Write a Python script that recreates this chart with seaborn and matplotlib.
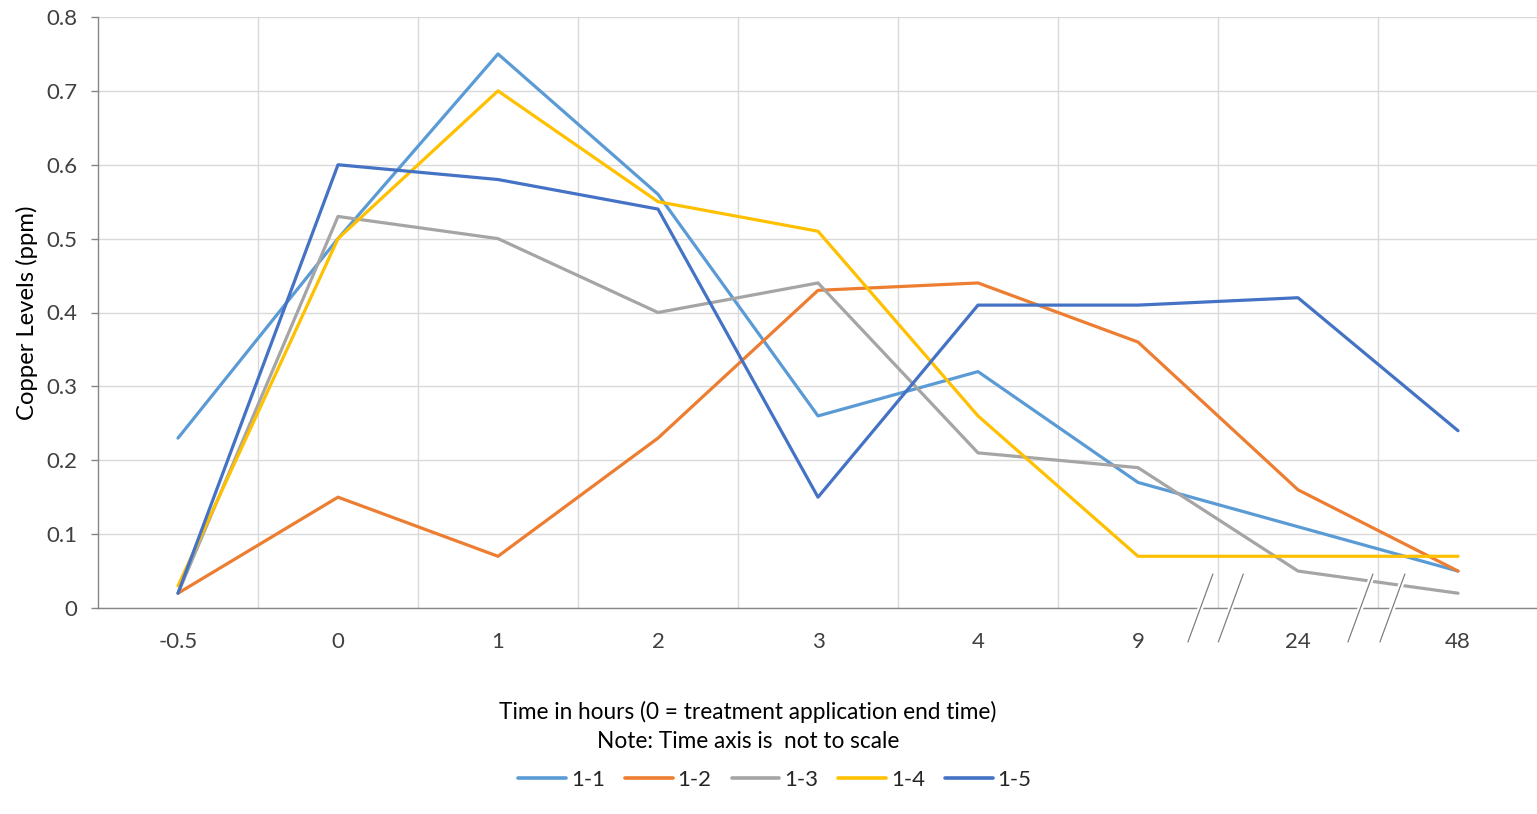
import matplotlib
matplotlib.use("Agg")
import matplotlib.pyplot as plt
import seaborn as sns
import pandas as pd
import numpy as np

# Sampling times (categorical, not to scale)
time_labels = ["-0.5", "0", "1", "2", "3", "4", "9", "24", "48"]

# Copper levels (ppm) per sample site
s_1_1 = [0.23, 0.50, 0.75, 0.56, 0.26, 0.32, 0.17, 0.11, 0.05]
s_1_2 = [0.02, 0.15, 0.07, 0.23, 0.43, 0.44, 0.36, 0.16, 0.05]
s_1_3 = [0.02, 0.53, 0.50, 0.40, 0.44, 0.21, 0.19, 0.05, 0.02]
s_1_4 = [0.03, 0.50, 0.70, 0.55, 0.51, 0.26, 0.07, 0.07, 0.07]
s_1_5 = [0.02, 0.60, 0.58, 0.54, 0.15, 0.41, 0.41, 0.42, 0.24]

series_names = ["1-1", "1-2", "1-3", "1-4", "1-5"]
series_values = [s_1_1, s_1_2, s_1_3, s_1_4, s_1_5]
colors = ["#5B9BD5", "#ED7D31", "#A5A5A5", "#FFC000", "#4472C4"]

rows = []
for name, vals in zip(series_names, series_values):
    for i, v in enumerate(vals):
        rows.append({"pos": i, "time": time_labels[i], "series": name, "value": v})
df = pd.DataFrame(rows)

sns.set_theme(style="white")
plt.rcParams["font.family"] = ["Lato", "DejaVu Sans"]

FS = 16
TXT = "#404040"

W, H = 1537, 814
fig = plt.figure(figsize=(W / 100, H / 100), dpi=100)
ax = fig.add_axes([98 / W, 1 - 608 / H, 1440 / W, (608 - 17) / H])

sns.lineplot(data=df, x="pos", y="value", hue="series", palette=colors,
             linewidth=2.3, ax=ax, legend=False, sort=False)

n = len(time_labels)
ax.set_xlim(-0.5, n - 0.5)
ax.set_ylim(0, 0.8)

# Category labels at centres, gridlines / ticks at category boundaries
ax.set_xticks(np.arange(n))
ax.set_xticklabels(time_labels)
ax.set_xticks(np.arange(0.5, n - 0.5, 1.0), minor=True)
ax.tick_params(axis="x", which="major", length=0, pad=17, labelsize=FS, colors=TXT)
ax.tick_params(axis="x", which="minor", length=6, width=1, color="#868686", direction="out")
ax.set_yticks(np.arange(0, 0.81, 0.1))
ax.set_yticklabels(["0"] + [f"{v:.1f}" for v in np.arange(0.1, 0.81, 0.1)])
ax.tick_params(axis="y", length=5, width=1, color="#868686", direction="out",
               labelsize=FS, colors=TXT, pad=10, left=True)

ax.grid(True, axis="y", which="major", color="#D9D9D9", linewidth=1)
ax.grid(True, axis="x", which="minor", color="#D9D9D9", linewidth=1)
ax.grid(False, axis="x", which="major")
ax.set_axisbelow(True)

for side in ["top", "right"]:
    ax.spines[side].set_visible(False)
ax.spines["left"].set_color("#868686")
ax.spines["bottom"].set_color("#868686")
ax.spines["left"].set_linewidth(1)
ax.spines["bottom"].set_linewidth(1)

ax.set_xlabel("")
ax.set_ylabel("Copper Levels (ppm)", fontsize=17.2, color="#000000")
ax.yaxis.set_label_coords(-0.042, 0.5)

# Axis break marks between the later time points
def break_mark(xc, yc=0.0, dx=0.078, dy=0.046):
    xs = [xc - dx, xc + dx]
    ys = [yc - dy, yc + dy]
    ax.plot(xs, ys, color="white", linewidth=4, clip_on=False, zorder=5,
            solid_capstyle="butt")
    ax.plot(xs, ys, color="#808080", linewidth=0.9, clip_on=False, zorder=6)

for xc in [6.39, 6.58, 7.39, 7.59]:
    break_mark(xc)

fig.text(748 / W, 1 - 712 / H, "Time in hours (0 = treatment application end time)",
         ha="center", va="center", fontsize=16.3, color="#000000")
fig.text(748 / W, 1 - 742 / H, "Note: Time axis is  not to scale",
         ha="center", va="center", fontsize=16.3, color="#000000")

handles = [plt.Line2D([0], [0], color=c, linewidth=2.6) for c in colors]
fig.legend(handles, series_names, loc="center", bbox_to_anchor=(775 / W, 1 - 780 / H),
           ncol=5, frameon=False, fontsize=FS, handlelength=2.15, handletextpad=0.22,
           columnspacing=0.9)

fig.savefig("out.png", dpi=100)
